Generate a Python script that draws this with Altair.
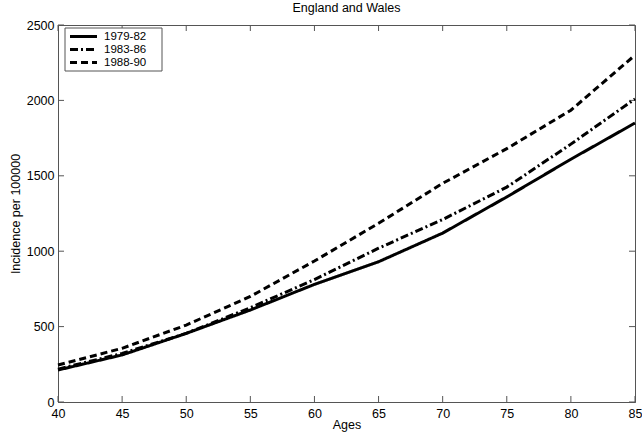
import altair as alt
import pandas as pd

# Age bands (lower bound of each 5-year group)
ages = [40, 45, 50, 55, 60, 65, 70, 75, 80, 85]

# Incidence per 100000 by calendar period
inc_1979_82 = [212, 312, 455, 610, 780, 930, 1120, 1360, 1610, 1850]
inc_1983_86 = [218, 322, 455, 625, 812, 1020, 1210, 1425, 1710, 2010]
inc_1988_90 = [245, 356, 510, 700, 935, 1185, 1450, 1680, 1935, 2300]

periods = ["1979-82", "1983-86", "1988-90"]
series = [inc_1979_82, inc_1983_86, inc_1988_90]
dashes = [[1, 0], [8, 3, 2, 3], [7, 4]]

x_ticks = [40, 45, 50, 55, 60, 65, 70, 75, 80, 85]
y_ticks = [0, 500, 1000, 1500, 2000, 2500]

rows = []
for period, values in zip(periods, series):
    for age, v in zip(ages, values):
        rows.append({"age": age, "incidence": v, "period": period})
df = pd.DataFrame(rows)

W, H = 577, 377
FONT = "Liberation Sans"
AXIS_GREY = "#555555"
TICK = 6
FS = 12.5

x_scale = alt.Scale(domain=[40, 85], nice=False, zero=False)
y_scale = alt.Scale(domain=[0, 2500], nice=False)

lines = alt.Chart(df).mark_line(color="black", strokeWidth=3, strokeCap="butt").encode(
    x=alt.X("age:Q", scale=x_scale,
            axis=alt.Axis(title="Ages", values=x_ticks, tickSize=0, labelPadding=5,
                          format="d", domainColor=AXIS_GREY, titlePadding=-1,
                          labelFlush=False)),
    y=alt.Y("incidence:Q", scale=y_scale,
            axis=alt.Axis(title="Incidence per 100000", values=y_ticks, tickSize=0,
                          format="d", labelPadding=4, domainColor=AXIS_GREY,
                          titlePadding=4, labelFlush=False)),
    strokeDash=alt.StrokeDash(
        "period:N", scale=alt.Scale(domain=periods, range=dashes), legend=None),
    order="age:Q",
    detail="period:N",
)

xt = pd.DataFrame({"t": x_ticks})
yt = pd.DataFrame({"t": y_ticks})

# Inward tick marks on all four sides of the frame
x_bottom = alt.Chart(xt).mark_rule(color=AXIS_GREY).encode(
    x=alt.X("t:Q", scale=x_scale), y=alt.value(H), y2=alt.value(H - TICK))
x_top = alt.Chart(xt).mark_rule(color=AXIS_GREY).encode(
    x=alt.X("t:Q", scale=x_scale), y=alt.value(0), y2=alt.value(TICK))
y_left = alt.Chart(yt).mark_rule(color=AXIS_GREY).encode(
    y=alt.Y("t:Q", scale=y_scale), x=alt.value(0), x2=alt.value(TICK))
y_right = alt.Chart(yt).mark_rule(color=AXIS_GREY).encode(
    y=alt.Y("t:Q", scale=y_scale), x=alt.value(W), x2=alt.value(W - TICK))

# Boxed legend in the upper-left corner
legend_box = alt.Chart(pd.DataFrame({"k": [0]})).mark_rect(
    fill="white", stroke=AXIS_GREY, strokeWidth=1
).encode(x=alt.value(7), x2=alt.value(104), y=alt.value(3), y2=alt.value(46))

legend_layers = [legend_box]
for i, (period, dash) in enumerate(zip(periods, dashes)):
    row_y = 11.5 + 13 * i
    one = pd.DataFrame({"period": [period]})
    legend_layers.append(
        alt.Chart(one).mark_rule(color="black", strokeWidth=3, strokeDash=dash,
                                 strokeCap="butt").encode(
            x=alt.value(12), x2=alt.value(39), y=alt.value(row_y))
    )
    legend_layers.append(
        alt.Chart(one).mark_text(align="left", baseline="middle", font=FONT,
                                 fontSize=11.5, color="black").encode(
            x=alt.value(46), y=alt.value(row_y + 0.5), text="period:N")
    )

chart = alt.layer(x_bottom, x_top, y_left, y_right, lines, *legend_layers).properties(
    width=W, height=H,
    title=alt.TitleParams("England and Wales", font=FONT, fontSize=FS,
                          fontWeight="normal", color="black", offset=5),
    autosize=alt.AutoSizeParams(type="none"),
    padding={"left": 58, "top": 25, "right": 7, "bottom": 31},
    background="white",
).configure_view(
    stroke=AXIS_GREY, strokeWidth=1
).configure_axis(
    labelFont=FONT, titleFont=FONT, labelFontSize=FS, titleFontSize=FS,
    labelColor="black", titleColor="black", titleFontWeight="normal", grid=False,
)

chart.save("out.html", embed_options={"renderer": "svg", "actions": False})
